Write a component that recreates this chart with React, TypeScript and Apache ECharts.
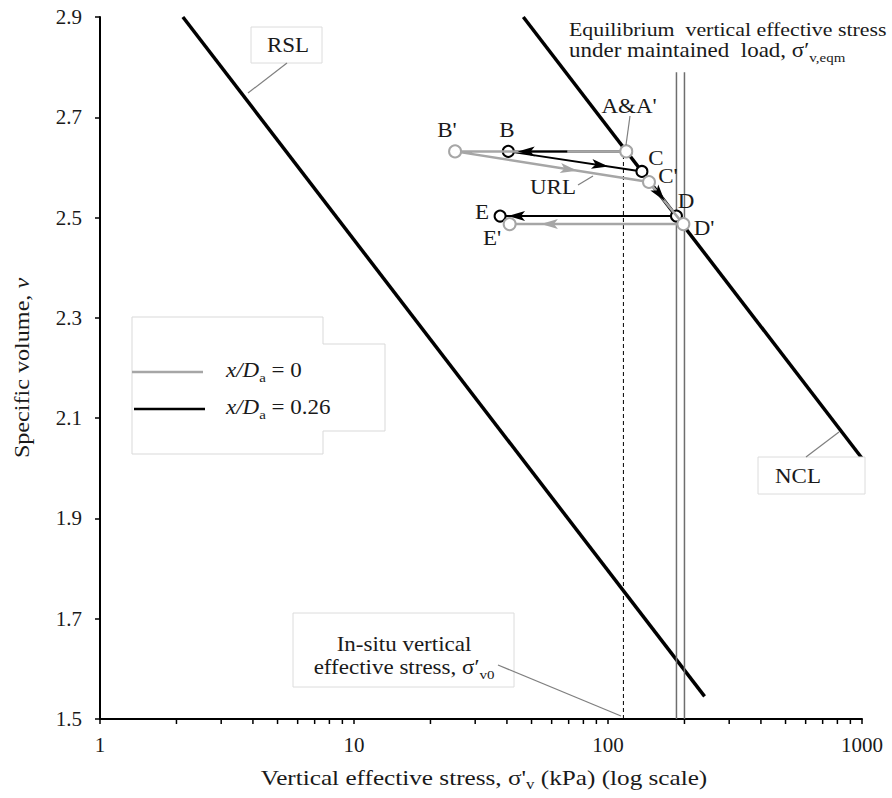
import React, { useEffect, useRef } from "react";
import * as echarts from "echarts";

// ---- data ----
const yTickValues = [1.5, 1.7, 1.9, 2.1, 2.3, 2.5, 2.7, 2.9];
const xTickValues = [1, 10, 100, 1000];
const xMinorTickValues = [
  2, 3, 4, 5, 6, 7, 8, 9,
  20, 30, 40, 50, 60, 70, 80, 90,
  200, 300, 400, 500, 600, 700, 800, 900,
];

// Normal compression line and residual state line (stress kPa, specific volume)
const nclLine = [[46.4, 2.9], [1000, 2.02]];
const rslLine = [[2.12, 2.9], [240, 1.545]];

// Stress paths A-B-C-D-E
const pathDa0Labels = ["A'", "B'", "C'", "D'", "E'"];
const pathDa0 = [[118, 2.632], [25, 2.632], [145, 2.571], [198, 2.487], [41, 2.487]];
const pathDa026Labels = ["A", "B", "C", "D", "E"];
const pathDa026 = [[118, 2.632], [40.5, 2.632], [136, 2.592], [186, 2.503], [37.6, 2.503]];

const insituStress = 115; // sigma'v0
const eqmStresses = [186, 200]; // sigma'v,eqm
const eqmLineTop = 2.79;

// arrowheads along path segments: segment index, tip position, shaft start
const arrowsDa026 = [
  { seg: 0, at: 0.92, from: 0.5 },
  { seg: 1, at: 0.75, from: 0.75 },
  { seg: 2, at: 0.66, from: 0.66 },
  { seg: 3, at: 0.955, from: 0.955 },
];
const arrowsDa0 = [
  { seg: 1, at: 0.63, from: 0.63 },
  { seg: 3, at: 0.82, from: 0.82 },
];

const FONT = "'Liberation Serif', 'Times New Roman', serif";
const INK = "#1a1a1a";
const GREY = "#a6a6a6";
const STRETCH = 1.15;

const arrowData = (path: number[][], specs: { seg: number; at: number; from: number }[]) =>
  specs.map((s) => [path[s.seg][0], path[s.seg][1], path[s.seg + 1][0], path[s.seg + 1][1], s.at, s.from]);

const arrowRenderer = (color: string) => (_params: any, api: any) => {
  const a = api.coord([api.value(0), api.value(1)]);
  const b = api.coord([api.value(2), api.value(3)]);
  const at = api.value(4);
  const from = api.value(5);
  const dx = b[0] - a[0];
  const dy = b[1] - a[1];
  const len = Math.hypot(dx, dy) || 1;
  const ux = dx / len;
  const uy = dy / len;
  const tx = a[0] + dx * at;
  const ty = a[1] + dy * at;
  const L = 17;
  const W = 5;
  const bx = tx - ux * L;
  const by = ty - uy * L;
  const nx = tx - ux * (L - 4);
  const ny = ty - uy * (L - 4);
  const children: any[] = [
    {
      type: "polygon",
      shape: { points: [[tx, ty], [bx - uy * W, by + ux * W], [nx, ny], [bx + uy * W, by - ux * W]] },
      style: { fill: color },
    },
  ];
  if (from < at) {
    children.unshift({
      type: "line",
      shape: { x1: a[0] + dx * from, y1: a[1] + dy * from, x2: nx, y2: ny },
      style: { stroke: color, lineWidth: 2 },
    });
  }
  return { type: "group", children };
};

const makeRich = (size: number) => ({
  n: { fontSize: size, fontFamily: FONT, color: INK, lineHeight: size + 6 },
  i: { fontSize: size, fontFamily: FONT, color: INK, fontStyle: "italic", lineHeight: size + 6 },
  s: { fontSize: Math.round(size * 0.65), fontFamily: FONT, color: INK, lineHeight: 13, verticalAlign: "bottom" },
});
const richBase = makeRich(20);
const richTitle = makeRich(21);

const txt = (x: number, y: number, text: string, extra: any = {}, rotation = 0, stretch = STRETCH) => ({
  type: "text",
  x,
  y,
  z: 20,
  rotation,
  scaleX: stretch,
  style: {
    text,
    fontSize: 20,
    fontFamily: FONT,
    fill: INK,
    align: "center",
    verticalAlign: "middle",
    rich: richBase,
    ...extra,
  },
});

const leader = (x1: number, y1: number, x2: number, y2: number) => ({
  type: "line",
  z: 20,
  shape: { x1, y1, x2, y2 },
  style: { stroke: "#7f7f7f", lineWidth: 1.2 },
});

const box = (x: number, y: number, w: number, h: number) => ({
  type: "rect",
  z: 15,
  shape: { x, y, width: w, height: h },
  style: { fill: "#fff", stroke: "#dcdcdc", lineWidth: 1 },
});

export default function App() {
  const ref = useRef<HTMLDivElement>(null);

  useEffect(() => {
    if (!ref.current) return;
    const chart = echarts.init(ref.current, undefined, { renderer: "svg" });

    const pointLabelPos: Record<string, [number, number]> = {
      "B'": [447, 131],
      B: [507, 131],
      C: [656, 159],
      "C'": [668, 177],
      D: [686, 202],
      "D'": [704, 229],
      E: [482, 213],
      "E'": [492, 239],
    };

    const graphic: any[] = [
      // axis titles
      txt(484, 778, "{n|Vertical effective stress, σ'}{s|v}{n| (kPa) (log scale)}", { rich: richTitle }, 0, 1.2),
      txt(22, 368, "{n|Specific volume, }{i|v}", { rich: richTitle }, Math.PI / 2),

      // legend
      {
        type: "polygon",
        z: 15,
        shape: {
          points: [[132, 317], [323, 317], [323, 344], [385, 344], [385, 431], [323, 431], [323, 454], [132, 454]],
        },
        style: { fill: "#fff", stroke: "#d9d9d9", lineWidth: 1 },
      },
      { type: "line", z: 20, shape: { x1: 132, y1: 372, x2: 203, y2: 372 }, style: { stroke: GREY, lineWidth: 2.5 } },
      { type: "line", z: 20, shape: { x1: 134, y1: 409, x2: 205, y2: 409 }, style: { stroke: "#000", lineWidth: 2.5 } },
      txt(226, 371, "{i|x/D}{s|a}{n| = 0}", { align: "left" }),
      txt(226, 408, "{i|x/D}{s|a}{n| = 0.26}", { align: "left" }),

      // RSL label
      box(251, 27, 71, 36),
      txt(288, 46, "RSL"),
      leader(287, 63, 248, 93),

      // NCL label
      box(758, 457, 107, 37),
      txt(775, 477, "NCL", { align: "left" }),
      leader(806, 457, 839, 432),

      // in-situ stress label
      box(293, 613, 221, 74),
      txt(404, 645, "In-situ vertical"),
      txt(404, 668, "{n|effective stress, σ′}{s|v0}"),
      leader(498, 665, 621, 716),

      // equilibrium stress label
      txt(569, 30, "Equilibrium  vertical effective stress", { align: "left", fontSize: 19 }),
      txt(569, 51, "{n|under maintained  load, σ′}{s|v,eqm}", { align: "left" }),

      // point labels
      txt(629, 107, "A&A'"),
      leader(630, 116, 626, 145),
      txt(553, 188, "URL"),
      leader(578, 185, 593, 176),
      ...Object.entries(pointLabelPos).map(([k, p]) => txt(p[0], p[1], k)),
    ];

    chart.setOption({
      animation: false,
      grid: { left: 100, top: 17, right: 30, bottom: 79, containLabel: false },
      xAxis: {
        type: "log",
        logBase: 10,
        min: 1,
        max: 1000,
        axisLine: { lineStyle: { color: "#000", width: 2 } },
        axisTick: { show: true, length: 5, lineStyle: { color: "#000", width: 1.5 }, customValues: xTickValues },
        axisLabel: {
          fontSize: 21,
          fontFamily: FONT,
          color: INK,
          margin: 15,
          customValues: xTickValues,
          formatter: (v: number) => String(v),
        },
        splitLine: { show: false },
        minorTick: { show: false },
      },
      yAxis: {
        type: "value",
        min: 1.5,
        max: 2.9,
        axisLine: { show: true, lineStyle: { color: "#000", width: 2 } },
        axisTick: { show: true, length: 5, lineStyle: { color: "#000", width: 1.5 }, customValues: yTickValues },
        axisLabel: {
          fontSize: 21,
          fontFamily: FONT,
          color: INK,
          margin: 18,
          customValues: yTickValues,
          formatter: (v: number) => v.toFixed(1),
        },
        splitLine: { show: false },
      },
      graphic,
      series: [
        {
          name: "RSL",
          type: "line",
          data: rslLine,
          symbol: "none",
          silent: true,
          lineStyle: { color: "#000", width: 3.5 },
          z: 2,
        },
        {
          name: "NCL",
          type: "line",
          data: nclLine,
          symbol: "none",
          silent: true,
          lineStyle: { color: "#000", width: 3.5 },
          z: 2,
        },
        {
          name: "insitu",
          type: "line",
          data: [[insituStress, yTickValues[0]], [insituStress, pathDa026[0][1]]],
          symbol: "none",
          silent: true,
          lineStyle: { color: "#000", width: 1, type: [4, 3] },
          z: 2,
        },
        ...eqmStresses.map((s) => ({
          name: "eqm" + s,
          type: "line",
          data: [[s, yTickValues[0]], [s, eqmLineTop]],
          symbol: "none",
          silent: true,
          lineStyle: { color: "#6e6e6e", width: 1.5 },
          z: 2,
        })),
        {
          name: "x/Da = 0.26",
          type: "line",
          data: pathDa026,
          symbol: "circle",
          symbolSize: 11,
          showAllSymbol: true,
          silent: true,
          lineStyle: { color: "#000", width: 2 },
          itemStyle: { color: "#fff", borderColor: "#000", borderWidth: 2 },
          z: 3,
        },
        {
          name: "x/Da = 0",
          type: "line",
          data: pathDa0,
          symbol: "circle",
          symbolSize: 12,
          showAllSymbol: true,
          silent: true,
          lineStyle: { color: GREY, width: 2.5 },
          itemStyle: { color: "#fff", borderColor: GREY, borderWidth: 2 },
          z: 4,
        },
        {
          name: "arrows0.26",
          type: "custom",
          data: arrowData(pathDa026, arrowsDa026),
          renderItem: arrowRenderer("#000"),
          silent: true,
          z: 6,
        },
        {
          name: "arrows0",
          type: "custom",
          data: arrowData(pathDa0, arrowsDa0),
          renderItem: arrowRenderer(GREY),
          silent: true,
          z: 5,
        },
        {
          name: "minorTicks",
          type: "custom",
          data: xMinorTickValues.map((x) => [x, yTickValues[0]]),
          renderItem: (_p: any, api: any) => {
            const p = api.coord([api.value(0), api.value(1)]);
            return {
              type: "line",
              shape: { x1: p[0], y1: p[1], x2: p[0], y2: p[1] + 5 },
              style: { stroke: "#000", lineWidth: 1.5 },
            };
          },
          silent: true,
          clip: false,
          z: 6,
        },
      ],
    });

    return () => chart.dispose();
  }, []);

  return (
    <div
      ref={ref}
      style={{ position: "fixed", left: 0, top: 0, width: 892, height: 798, background: "#fff" }}
    />
  );
}
